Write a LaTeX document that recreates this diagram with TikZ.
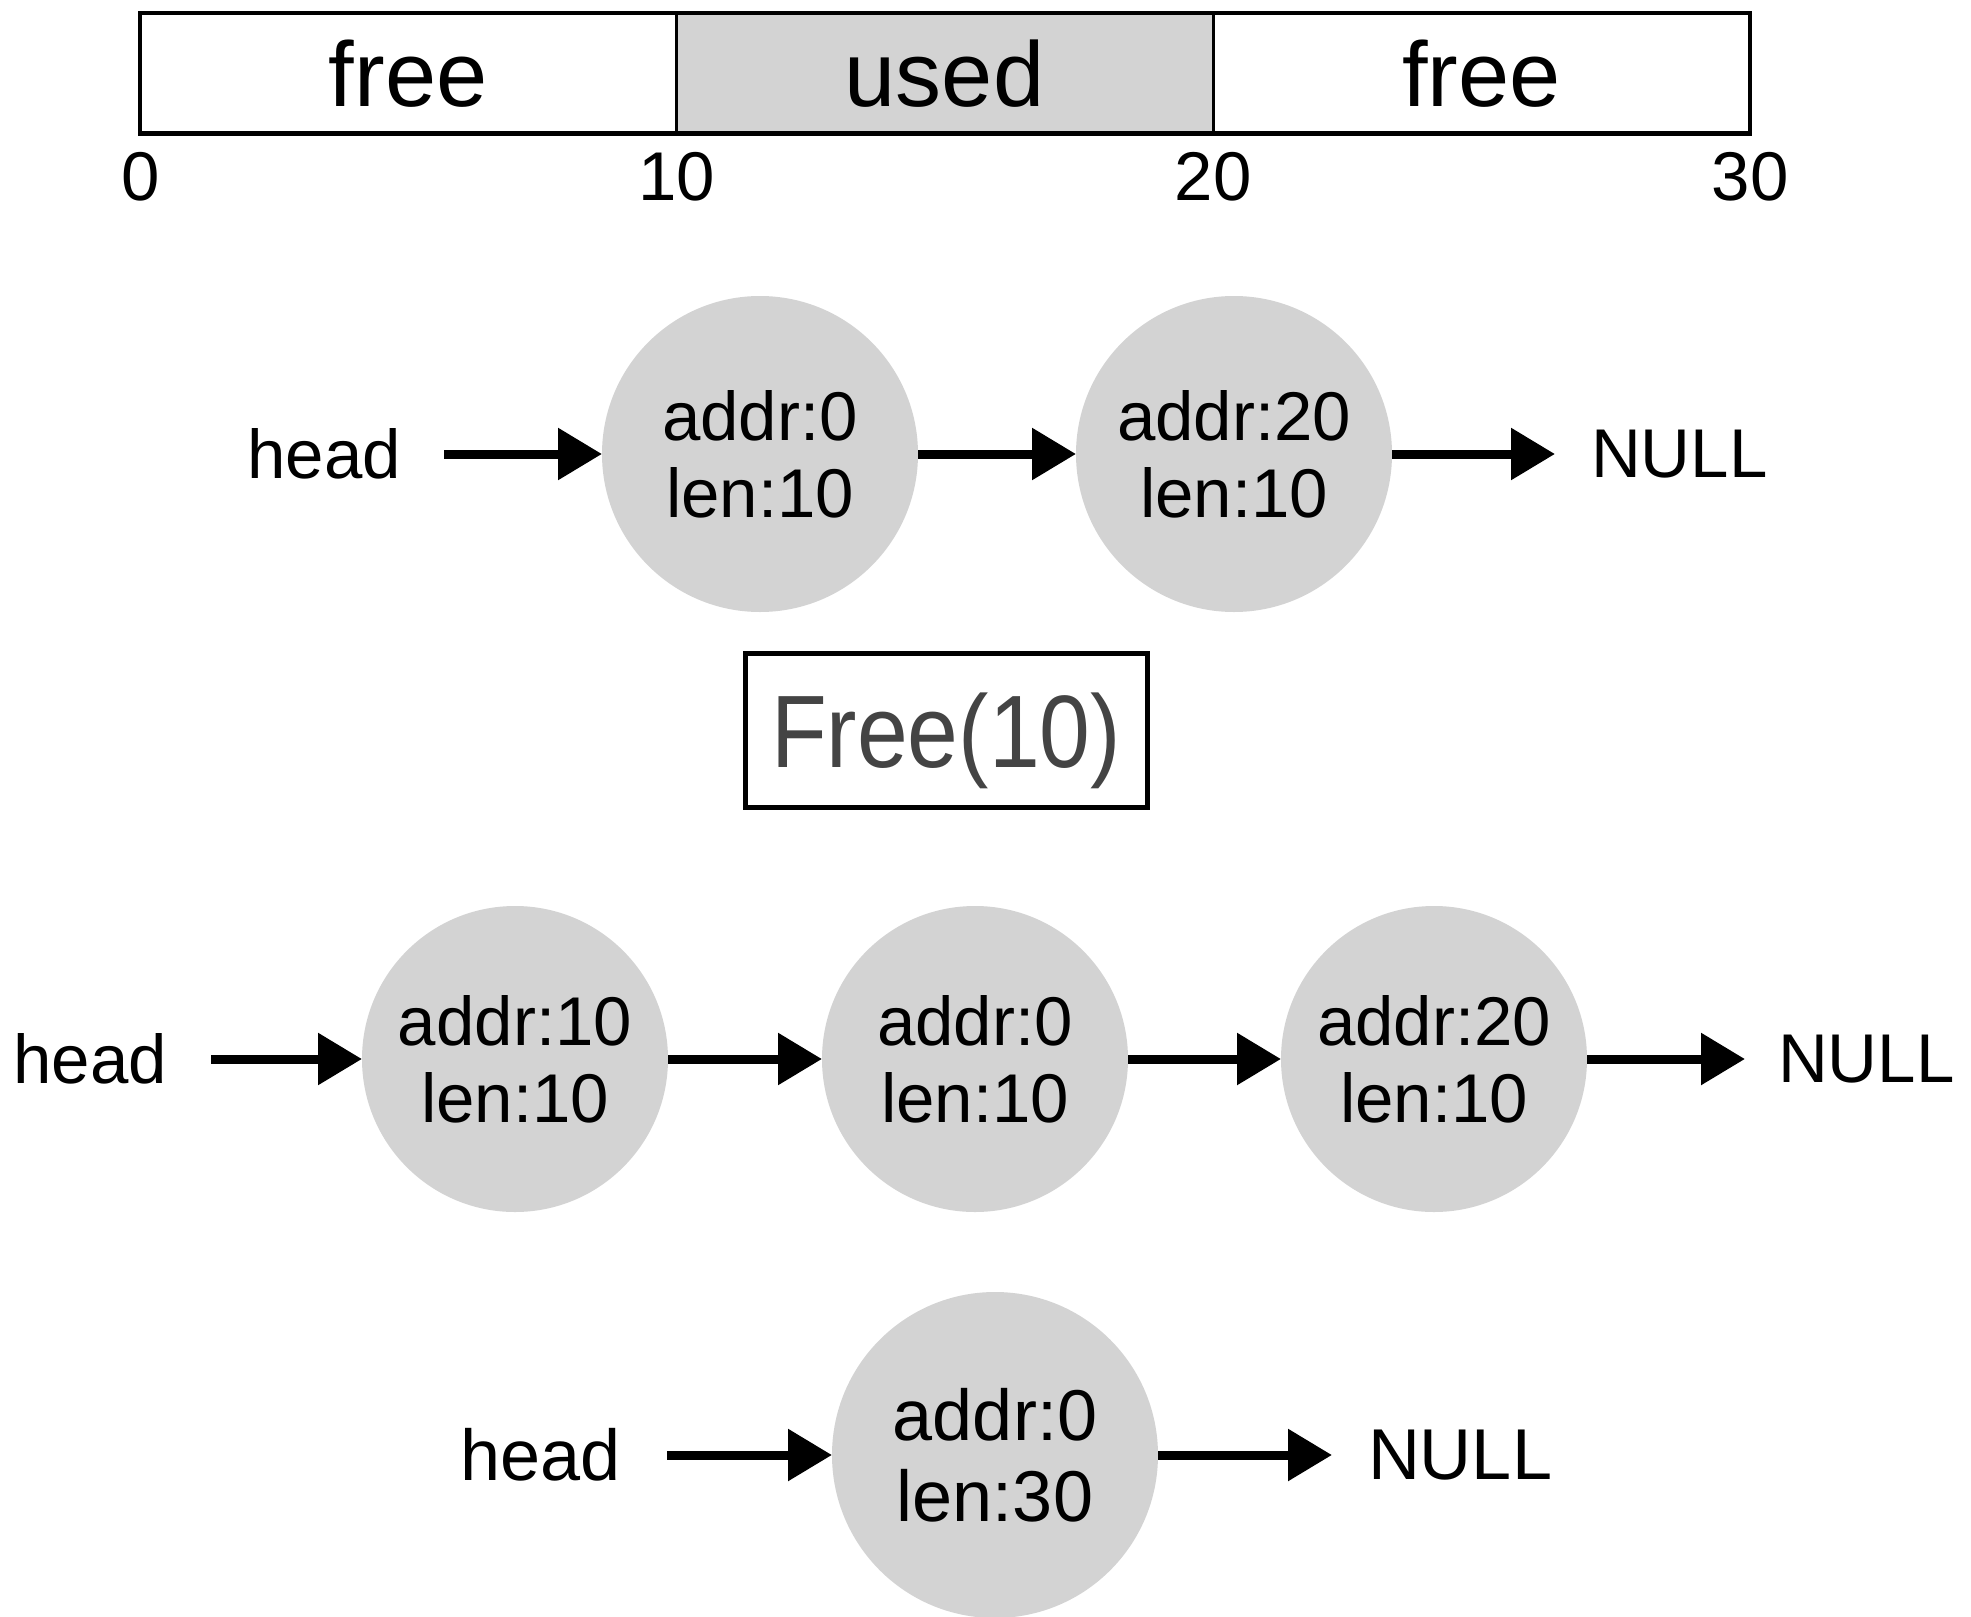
\documentclass[tikz,border=0pt]{standalone}
\usepackage{fontspec}
\usepackage{graphicx}
\setmainfont{Liberation Sans}
\usetikzlibrary{arrows.meta}
\definecolor{cellgray}{HTML}{D3D3D3}
\definecolor{opgray}{HTML}{444444}
\begin{document}
\begin{tikzpicture}[x=1pt,y=-1pt,
  cell/.style={draw, line width=2.5pt, minimum width=536.5pt, minimum height=120.5pt,
    inner sep=0pt, outer sep=0pt, font=\fontsize{92}{100}\selectfont},
  tick/.style={anchor=base, inner sep=0pt, font=\fontsize{69}{77}\selectfont},
  blob/.style={circle, fill=cellgray, inner sep=0pt, outer sep=0pt, align=center,
    font=\fontsize{69}{77}\selectfont},
  bigblob/.style={blob, font=\fontsize{72}{81}\selectfont},
  lbl/.style={inner sep=0pt, outer sep=0pt, font=\fontsize{69}{77}\selectfont},
  biglbl/.style={lbl, font=\fontsize{72}{81}\selectfont},
  link/.style={line width=9pt, -{Triangle[length=44pt,width=50pt]}},
]
\useasboundingbox (0,0) rectangle (1971,1617);

% memory bar
\node[cell] (b1) at (408.25,73.25) {free};
\node[cell, fill=cellgray] (b2) at (944.5,73.25) {used};
\node[cell] (b3) at (1481.5,73.25) {free};
\draw[line width=4.5pt] (b1.north west) rectangle (b3.south east);
\node[tick] (t0) at (141,200) {0};
\node[tick] (t1) at (677,200) {10};
\node[tick] (t2) at (1213,200) {20};
\node[tick] (t3) at (1750,200) {30};

% free list before the call
\node[lbl, anchor=east] (h1) at (401,454) {head};
\node[blob, minimum size=316pt] (a1) at (760,454) {addr:0\\len:10};
\node[blob, minimum size=316pt] (a2) at (1234,454) {addr:20\\len:10};
\node[lbl, anchor=west] (z1) at (1591,454) {NULL};
\draw[link, shorten <=43pt] (h1.east) -- (a1.west);
\draw[link] (a1.east) -- (a2.west);
\draw[link, shorten >=36pt] (a2.east) -- (z1.west);

% operation
\node[draw, line width=5pt, minimum width=402pt, minimum height=154pt, inner sep=0pt,
  text=opgray, text depth=0pt, font=\fontsize{103}{110}\selectfont] (op) at (946,730)
  {\scalebox{0.886}[1]{Free(10)}};

% free list after inserting the block
\node[lbl, anchor=east] (h2) at (167,1059) {head};
\node[blob, minimum size=306pt] (c1) at (515,1059) {addr:10\\len:10};
\node[blob, minimum size=306pt] (c2) at (975,1059) {addr:0\\len:10};
\node[blob, minimum size=306pt] (c3) at (1434,1059) {addr:20\\len:10};
\node[lbl, anchor=west] (z2) at (1778,1059) {NULL};
\draw[link, shorten <=44pt] (h2.east) -- (c1.west);
\draw[link] (c1.east) -- (c2.west);
\draw[link] (c2.east) -- (c3.west);
\draw[link, shorten >=33pt] (c3.east) -- (z2.west);

% free list after merging
\node[biglbl, anchor=east] (h3) at (621,1455) {head};
\node[bigblob, minimum size=326pt] (d1) at (995,1455) {addr:0\\len:30};
\node[biglbl, anchor=west] (z3) at (1368,1455) {NULL};
\draw[link, shorten <=46pt] (h3.east) -- (d1.west);
\draw[link, shorten >=36pt] (d1.east) -- (z3.west);
\end{tikzpicture}
\end{document}
